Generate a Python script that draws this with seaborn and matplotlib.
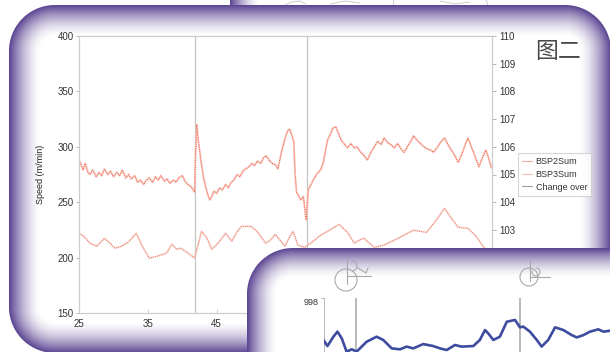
import numpy as np
import pandas as pd
import matplotlib
matplotlib.use("Agg")
import matplotlib.pyplot as plt
from matplotlib.lines import Line2D
from matplotlib.patches import Circle, Arc
import seaborn as sns

# ---------------- data ----------------
# BSP2Sum speed (left axis, m/min)
bsp2_time = [25.0, 25.3, 25.6, 25.9, 26.3, 26.6, 27.0, 27.5, 27.9, 28.3, 28.7, 29.2, 29.6, 30.0,
             30.5, 30.9, 31.3, 31.8, 32.2, 32.6, 33.1, 33.5, 33.9, 34.4, 34.8, 35.2, 35.7, 36.1,
             36.5, 36.9, 37.4, 37.8, 38.2, 38.7, 39.1, 39.5, 40.0, 40.4, 40.8, 41.3, 41.8, 41.9,
             42.1, 42.3, 42.6, 42.8, 43.1, 43.6, 44.0, 44.3, 44.6, 45.0, 45.4, 45.8, 46.3, 46.7,
             47.1, 47.5, 48.0, 48.4, 48.8, 49.2, 49.7, 50.1, 50.5, 50.9, 51.4, 51.8, 52.2, 52.6,
             53.1, 53.5, 53.9, 54.2, 54.6, 55.0, 55.3, 55.6, 55.9, 56.2, 56.4, 56.6, 56.9, 57.2,
             57.6, 58.0, 58.1, 58.3, 58.7, 59.2, 59.6, 60.1, 60.5, 60.8, 61.1, 61.5, 61.9, 62.3,
             62.7, 63.1, 63.6, 64.0, 64.5, 65.0, 65.4, 65.8, 66.3, 66.9, 67.4, 67.9, 68.4, 68.9,
             69.3, 69.8, 70.3, 70.8, 71.3, 71.8, 72.2, 72.7, 73.2, 73.6, 74.1, 74.6, 75.1, 75.6,
             76.1, 76.5, 77.0, 77.5, 78.1, 78.6, 79.1, 79.6, 80.1, 80.6, 81.0, 81.5, 82.0, 82.5,
             83.1, 83.6, 84.1, 84.5, 84.9]
bsp2_speed = [288, 284, 279, 285, 277, 275, 279, 273, 277, 274, 280, 275, 278, 273,
              277, 274, 279, 272, 275, 271, 274, 268, 270, 266, 270, 272, 268, 273,
              270, 274, 269, 271, 267, 270, 268, 272, 274, 269, 266, 264, 259, 288,
              320, 307, 293, 284, 272, 259, 252, 255, 260, 258, 263, 261, 266, 263,
              268, 270, 275, 273, 278, 280, 282, 285, 283, 287, 285, 290, 292, 288,
              285, 284, 280, 289, 300, 309, 314, 316, 311, 305, 275, 259, 256, 252,
              255, 234, 243, 261, 266, 272, 276, 279, 286, 296, 306, 311, 317, 318,
              312, 306, 302, 299, 303, 299, 300, 296, 293, 288, 295, 300, 305, 302,
              308, 304, 302, 299, 303, 298, 295, 300, 305, 310, 306, 303, 300, 298,
              297, 295, 299, 304, 308, 302, 297, 292, 286, 293, 300, 308, 300, 292,
              282, 290, 297, 290, 281]

# BSP3Sum (right axis)
bsp3_time = [25.0, 25.7, 26.6, 27.6, 28.7, 29.5, 30.2, 31.2, 32.3, 33.3, 34.2, 35.2, 36.4, 37.7,
             38.5, 39.2, 39.8, 40.7, 41.8, 42.8, 43.6, 44.3, 45.3, 46.3, 47.2, 47.9, 48.6, 50.0,
             51.0, 52.1, 52.8, 53.5, 54.2, 54.9, 55.5, 56.1, 56.8, 57.8, 59.0, 60.1, 61.4, 62.8,
             64.0, 65.0, 65.7, 66.4, 67.2, 67.9, 69.3, 70.8, 72.2, 73.6, 75.5, 76.9, 78.1, 79.1,
             80.1, 81.5, 82.7, 83.8, 84.7]
bsp3_value = [102.88, 102.77, 102.52, 102.41, 102.70, 102.52, 102.34, 102.41, 102.59, 102.88,
              102.41, 101.98, 102.05, 102.16, 102.48, 102.30, 102.34, 102.19, 101.98, 102.95,
              102.70, 102.30, 102.55, 102.88, 102.59, 102.91, 103.13, 103.13, 102.91, 102.52,
              102.63, 102.84, 102.63, 102.41, 102.70, 102.95, 102.45, 102.37, 102.59, 102.81,
              102.99, 103.20, 102.91, 102.52, 102.63, 102.70, 102.52, 102.37, 102.45, 102.63,
              102.81, 102.99, 102.91, 103.35, 103.78, 103.42, 103.09, 103.06, 102.77, 102.37,
              102.19]

change_over = [41.9, 58.1]

left_ticks = [150, 200, 250, 300, 350, 400]
right_ticks = [100, 101, 102, 103, 104, 105, 106, 107, 108, 109, 110]
x_ticks = [25, 35, 45, 55, 65, 75, 85]
series_labels = ["BSP2Sum", "BSP3Sum", "Change over"]

# second panel trace
trace_time = [-0.2, 1.2, 3.3, 4.7, 6.2, 7.9, 9.7, 11.4, 13.2, 14.9, 18.4, 20.7, 23.7, 26.6,
              28.9, 31.2, 34.7, 38.2, 40.6, 42.9, 45.8, 48.1, 52.2, 54.5, 56.3, 57.4, 59.2,
              61.5, 63.9, 65.6, 66.8, 68.5, 69.7, 72.0, 74.4, 76.1, 78.4, 80.8, 83.7, 86.6,
              88.4, 90.7, 93.0, 95.9, 97.7, 100.0]
trace_value = [995.67, 995.33, 995.85, 996.13, 995.76, 995.02, 995.15, 995.02, 995.30, 995.57,
               995.85, 995.67, 995.20, 995.15, 995.30, 995.20, 995.44, 995.33, 995.20, 995.11,
               995.39, 995.30, 995.33, 995.67, 996.22, 996.04, 995.67, 995.85, 996.68, 996.74,
               996.78, 996.37, 996.41, 996.13, 995.67, 995.30, 995.67, 996.37, 996.22, 995.94,
               995.81, 995.94, 996.13, 996.26, 996.13, 996.18]
trace_events = [0.0, 11.2, 68.5]

# ---------------- style ----------------
sns.set_theme(style="white")
plt.rcParams["font.family"] = ["Liberation Sans", "DejaVu Sans"]

W, H = 610, 352
fig = plt.figure(figsize=(W / 100, H / 100), dpi=100)
fig.patch.set_facecolor("white")

PURPLE = np.array([0.35, 0.26, 0.57])


def rounded_frame(x0, y0, x1, y1, r, width):
    """RGBA image of a white rounded panel with a purple fading rim."""
    yy, xx = np.mgrid[0:H, 0:W].astype(float)
    yy += 0.5
    xx += 0.5
    cx, cy = (x0 + x1) / 2, (y0 + y1) / 2
    bx, by = (x1 - x0) / 2, (y1 - y0) / 2
    qx = np.abs(xx - cx) - (bx - r)
    qy = np.abs(yy - cy) - (by - r)
    d = (np.hypot(np.maximum(qx, 0), np.maximum(qy, 0))
         + np.minimum(np.maximum(qx, qy), 0) - r)
    t = np.clip(-d / width, 0, 1)
    fade = 1 - (1 - t) ** 1.6
    rgba = np.zeros((H, W, 4))
    rgba[..., :3] = PURPLE + (1 - PURPLE) * fade[..., None]
    rgba[..., 3] = np.clip(0.5 - d, 0, 1)
    return rgba


def full_axes(z):
    a = fig.add_axes([0, 0, 1, 1], zorder=z)
    a.set_xlim(0, W)
    a.set_ylim(H, 0)
    a.axis("off")
    a.patch.set_alpha(0)
    return a


# background panels
ax_bg = full_axes(0)
ax_bg.imshow(rounded_frame(230, -300, 1200, 300, 40, 30), extent=(0, W, H, 0), zorder=0)
for xs, ys in [([285, 292, 300, 306], [5, 2, 1, 4]), ([330, 345, 360], [4, 1, 3]),
               ([393, 393], [0, 6]), ([440, 455, 470], [1, 4, 2]), ([486, 488], [0, 6])]:
    ax_bg.plot(xs, ys, color="#c4c4c4", lw=0.6, zorder=1)
ax_bg.imshow(rounded_frame(9, 5, 611, 353, 46, 32), extent=(0, W, H, 0), zorder=2)

# ---------------- main chart ----------------
ax = fig.add_axes([79 / W, 1 - 313 / H, (492 - 79) / W, (313 - 36) / H], zorder=1)
ax.patch.set_alpha(0)
ax2 = ax.twinx()
ax2.set_zorder(1.5)
ax2.patch.set_alpha(0)

df2 = pd.DataFrame({"time": bsp2_time, "speed": bsp2_speed})
df3 = pd.DataFrame({"time": bsp3_time, "value": bsp3_value})

sns.lineplot(data=df2, x="time", y="speed", ax=ax, sort=False, estimator=None,
             color="#f9c3b7", lw=1.4, alpha=0.9)
sns.lineplot(data=df2, x="time", y="speed", ax=ax, sort=False, estimator=None,
             color="#e8442e", lw=0.6, linestyle=(0, (1.0, 1.8)))
sns.lineplot(data=df3, x="time", y="value", ax=ax2, sort=False, estimator=None,
             color="#fad0c7", lw=1.3, alpha=0.9)
sns.lineplot(data=df3, x="time", y="value", ax=ax2, sort=False, estimator=None,
             color="#d95a47", lw=0.55, linestyle=(0, (1.0, 1.8)))
for xc in change_over:
    ax.axvline(xc, color="#c6c6c6", lw=0.9, zorder=0)

ax.set_xlim(25, 85)
ax.set_ylim(150, 400)
ax2.set_ylim(100, 110)
ax.set_xticks(x_ticks)
ax.set_yticks(left_ticks)
ax2.set_yticks(right_ticks)
ax.set_xlabel("")
ax.set_ylabel("Speed (m/min)", fontsize=6.5, color="#222")
ax.yaxis.set_label_coords(-0.083, 0.5)
ax2.set_ylabel("")

ax.tick_params(axis="y", direction="out", length=2.5, width=0.6, color="#aaaaaa",
               labelsize=7, labelcolor="#333", pad=1.5, left=True)
ax.tick_params(axis="x", direction="in", length=3, width=0.6, color="#cccccc",
               labelsize=7, labelcolor="#333", pad=4, bottom=True)
ax2.tick_params(axis="y", direction="out", length=3, width=0.6, color="#aaaaaa",
                labelsize=7, labelcolor="#333", pad=2, right=True)
for a in (ax, ax2):
    for s in a.spines.values():
        s.set_color("#cccccc")
        s.set_linewidth(0.8)
    a.grid(False)

handles = [Line2D([], [], color="#f2a898", lw=0.8),
           Line2D([], [], color="#eebcb4", lw=0.8),
           Line2D([], [], color="#a0a0a0", lw=0.8)]
leg = ax2.legend(handles, series_labels, loc="upper left",
                 bbox_to_anchor=(518 / W, 1 - 153 / H), bbox_transform=fig.transFigure,
                 fontsize=6.5, frameon=True, fancybox=False, borderaxespad=0,
                 handlelength=1.1, handletextpad=0.4, borderpad=0.45, labelspacing=0.42)
leg.get_frame().set_edgecolor("#cccccc")
leg.get_frame().set_linewidth(0.8)
for txt in leg.get_texts():
    txt.set_color("#333")

fig.text(558 / W, 1 - 52 / H, "图二", ha="center", va="center", fontsize=16.5,
         color="#4a4a4a", family=["Noto Sans CJK SC"], zorder=5)

# ---------------- overlapping lower panel ----------------
ax_ov = full_axes(2)
ax_ov.imshow(rounded_frame(247, 248, 700, 460, 46, 30), extent=(0, W, H, 0), zorder=0)
icon_kw = dict(color="#a8a8a8", lw=0.8)
ax_ov.add_patch(Circle((346, 280), 11, fill=False, ec="#a8a8a8", lw=0.8))
ax_ov.plot([347, 347], [258, 284], **icon_kw)
ax_ov.plot([347, 371], [276, 276], **icon_kw)
ax_ov.add_patch(Arc((352, 266), 10, 10, theta1=-90, theta2=90, color="#a8a8a8", lw=0.8))
ax_ov.plot([358, 366, 368], [268, 273, 268], **icon_kw)
ax_ov.add_patch(Circle((529, 277), 9, fill=False, ec="#a8a8a8", lw=0.8))
ax_ov.plot([530, 530], [259, 281], **icon_kw)
ax_ov.plot([530, 550], [277, 277], **icon_kw)
ax_ov.add_patch(Arc((536, 272), 8, 8, theta1=-90, theta2=200, color="#a8a8a8", lw=0.8))

ax_p = fig.add_axes([324 / W, 0, 286 / W, 54 / H], zorder=3)
ax_p.patch.set_alpha(0)
for xe in trace_events:
    ax_p.axvline(xe, color="#b3b3b3", lw=1.3, zorder=1)
sns.lineplot(x=trace_time, y=trace_value, ax=ax_p, sort=False, estimator=None,
             color="#3d4c9f", lw=1.9, zorder=2)
ax_p.set_xlim(0, 100)
ax_p.set_ylim(995, 998)
ax_p.set_xticks([])
ax_p.set_yticks([998])
ax_p.set_yticklabels(["998"])
ax_p.tick_params(axis="y", length=2, width=0.6, color="#aaaaaa", labelsize=6.5,
                 labelcolor="#333", pad=2, left=True)
for lbl in ax_p.get_yticklabels():
    lbl.set_va("top")
for s in ax_p.spines.values():
    s.set_visible(False)

fig.savefig("out.png", dpi=100)
